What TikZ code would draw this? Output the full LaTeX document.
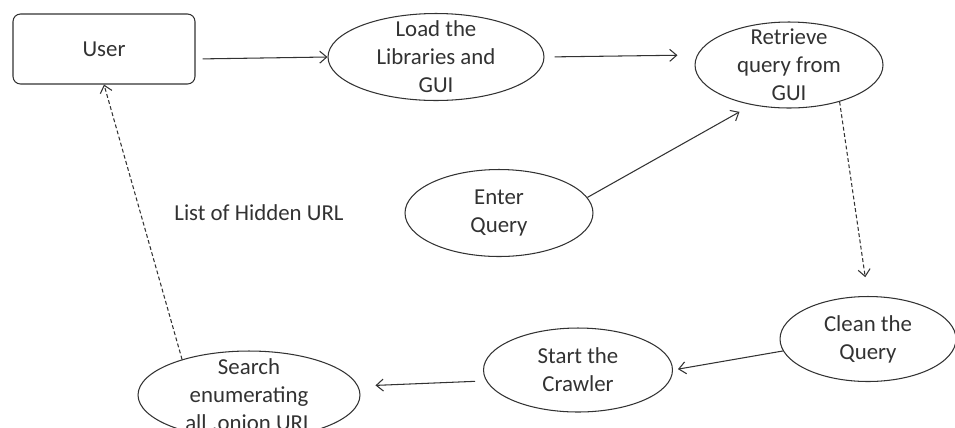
\documentclass[tikz,border=0pt]{standalone}
\usepackage{fontspec}
\setmainfont{Carlito}
\usetikzlibrary{arrows.meta,positioning,shapes.geometric}
\definecolor{inkgray}{RGB}{50,50,50}

\begin{document}
\begin{tikzpicture}[x=0.02cm,y=-0.02cm,
  txt/.style={align=center,font=\fontsize{13}{16}\selectfont,text=inkgray},
  oval/.style={ellipse,draw=inkgray,line width=0.6pt,inner sep=0pt},
  userbox/.style={draw=inkgray,line width=0.6pt,rounded corners=0.15cm,minimum width=3.64cm,minimum height=1.4cm,txt},
  arrow/.style={-{Straight Barb[length=1.4mm,width=2.4mm]},draw=inkgray,line width=0.6pt},
  dasharrow/.style={arrow,dash pattern=on 2.2pt off 1.4pt}
]
\useasboundingbox (0,0) rectangle (955,427);
\clip (0,0) rectangle (955,427);

\node[userbox] (user) at (104,49) {User};
\node[oval,minimum width=4.32cm,minimum height=1.74cm,label={[txt]center:Load the\\Libraries and\\GUI}] (load) at (436,57) {};
\node[oval,minimum width=3.76cm,minimum height=1.72cm,label={[txt]center:Retrieve\\query from\\GUI}] (retr) at (789,65) {};
\node[oval,minimum width=3.76cm,minimum height=1.74cm,label={[txt]center:Enter\\Query}] (enter) at (499,213) {};
\node[oval,minimum width=3.52cm,minimum height=1.7cm,label={[txt]center:Clean the\\Query}] (clean) at (868,339) {};
\node[oval,minimum width=3.78cm,minimum height=1.68cm,label={[txt]center:Start the\\Crawler}] (start) at (578,370) {};
\node[oval,minimum width=4.44cm,minimum height=1.76cm,label={[txt]center:Search\\enumerating\\all .onion URL}] (search) at (249,395) {};
\node[txt] (hidden) at (259,213) {List of Hidden URL};

\draw[arrow,shorten <=0.14cm] ([yshift=-0.2cm]user.east) -- (load.west);
\draw[arrow,shorten <=0.2cm,shorten >=0.34cm] ([yshift=0cm]load.east) -- ([yshift=0.2cm]retr.west);
\draw[arrow,shorten >=0.28cm] (enter.10) -- (retr.227);
\draw[dasharrow,shorten >=0.38cm] (retr.-36) -- (clean.north);
\draw[arrow,shorten >=0.1cm] (clean.188) -- (start.east);
\draw[arrow,shorten <=0.16cm,shorten >=0.3cm] ([yshift=-0.22cm]start.west) -- ([yshift=0.18cm]search.east);
\draw[dasharrow] (search.152) -- (user.south);
\end{tikzpicture}
\end{document}
